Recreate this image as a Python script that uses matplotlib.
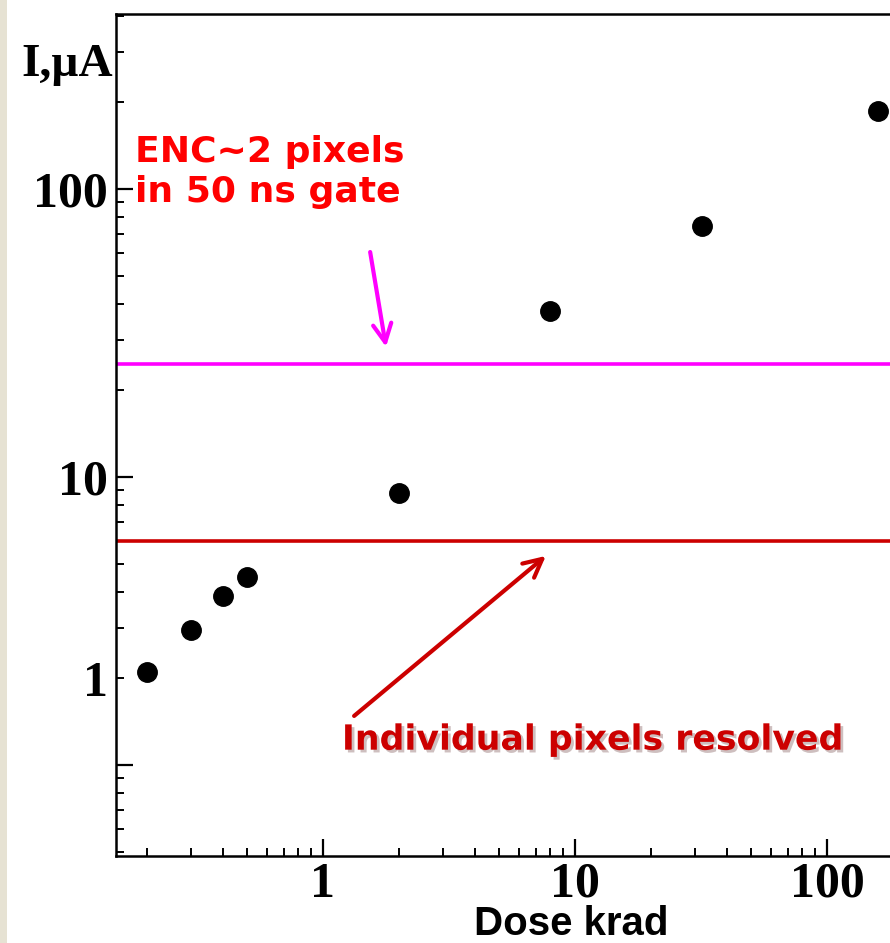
import matplotlib
matplotlib.use("Agg")
import matplotlib.pyplot as plt
import matplotlib.patheffects as pe
from matplotlib.font_manager import FontProperties
from matplotlib.ticker import FixedLocator, FuncFormatter, NullFormatter

# dose (krad) vs leakage current (uA), log-log
dose = [0.2, 0.3, 0.4, 0.5, 2, 8, 32, 160]
current = [2.1, 2.94, 3.86, 4.48, 8.8, 37.7, 74.5, 186.6]

level_gate = 24.6      # ENC~2 pixels in 50 ns gate
level_resolved = 6.0   # individual pixels resolved

W, H = 890, 943
fig = plt.figure(figsize=(W / 100, H / 100), dpi=100, facecolor="white")

# beige strip at left edge
fig.patches.append(plt.Rectangle((0, 0), 7 / W, 1, transform=fig.transFigure,
                                 facecolor="#e6e2d3", edgecolor="none"))

ax = fig.add_axes([116 / W, 1 - 856 / H, 1 - 116 / W, (856 - 14) / H])
ax.set_xscale("log")
ax.set_yscale("log")
ax.set_xlim(0.151, 178)
ax.set_ylim(0.483, 405)

ax.plot(dose, current, "o", color="black", ms=14, zorder=5)
ax.axhline(level_gate, color="#ff00ff", lw=2.6)
ax.axhline(level_resolved, color="#cc0000", lw=2.6)

for s in ["left", "bottom", "top"]:
    ax.spines[s].set_linewidth(1.8)
ax.spines["right"].set_visible(False)

ax.xaxis.set_major_locator(FixedLocator([1, 10, 100]))
ax.xaxis.set_minor_locator(FixedLocator([m * 10.0 ** e for e in (-1, 0, 1) for m in range(2, 10)]))
ax.yaxis.set_major_locator(FixedLocator([1, 10, 100]))
ax.yaxis.set_minor_locator(FixedLocator([m * 10.0 ** e for e in (-1, 0, 1, 2) for m in range(2, 10)]))

ax.xaxis.set_major_formatter(FuncFormatter(lambda v, p: "%g" % v))
ax.xaxis.set_minor_formatter(NullFormatter())
# the original labels the "1" beside the 2 tick
ax.yaxis.set_major_formatter(FuncFormatter(lambda v, p: "" if v < 5 else "%g" % v))
ax.yaxis.set_minor_formatter(FuncFormatter(lambda v, p: "1" if abs(v - 2) < 1e-6 else ""))

tick_font = FontProperties(family="Liberation Serif", weight="bold", size=36)
ax.tick_params(which="major", direction="in", length=12, width=1.6, pad=6)
ax.tick_params(which="minor", direction="in", length=6, width=1.4, pad=6)
ax.tick_params(axis="x", which="both", top=False, pad=4)
for lab in ax.get_xticklabels() + ax.get_yticklabels() + \
        ax.get_yticklabels(minor=True):
    lab.set_fontproperties(tick_font)

fig.text(113 / W, 1 - 76 / H, "I,µA", ha="right", va="baseline",
         family="Liberation Serif", weight="bold", size=34)
fig.text(571 / W, 1 - 935 / H, "Dose krad", ha="center", va="baseline",
         family="Liberation Sans", weight="bold", size=29)

ax.text(0.18, 124, "ENC~2 pixels", ha="left", va="baseline",
        color="#ff0000", weight="bold", size=26)
ax.text(0.18, 90.2, "in 50 ns gate", ha="left", va="baseline",
        color="#ff0000", weight="bold", size=26)
ax.text(1.19, 1.13, "Individual pixels resolved", ha="left", va="baseline",
        color="#cc0000", weight="bold", size=25,
        path_effects=[pe.SimplePatchShadow(offset=(2, -2), alpha=0.25), pe.Normal()])

ax.annotate("", xy=(1.78, 28.3), xytext=(1.54, 60.4),
            arrowprops=dict(arrowstyle="->,head_length=0.6,head_width=0.3",
                            color="#ff00ff", lw=3, mutation_scale=22,
                            shrinkA=0, shrinkB=0))
ax.annotate("", xy=(7.67, 5.32), xytext=(1.33, 1.48),
            arrowprops=dict(arrowstyle="->,head_length=0.6,head_width=0.3",
                            color="#cc0000", lw=3, mutation_scale=22,
                            shrinkA=0, shrinkB=0))

fig.savefig("out.png", dpi=100, facecolor="white")
